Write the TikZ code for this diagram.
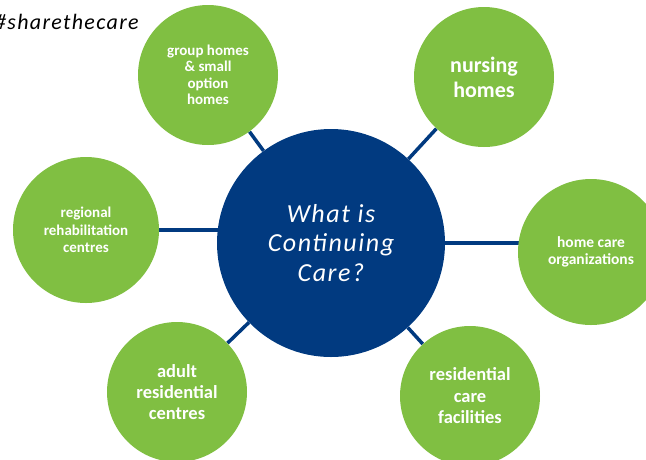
\documentclass[tikz,border=0pt]{standalone}
\usepackage{fontspec}
\setmainfont{Carlito}
\newfontfamily\handfont[LetterSpace=6]{Carlito}
\usetikzlibrary{backgrounds}
\definecolor{cgreen}{RGB}{128,191,66}
\definecolor{cblue}{RGB}{1,58,128}
\begin{document}
\begin{tikzpicture}[x=1pt,y=-1pt,
  sat/.style={circle, fill=cgreen, draw=none, inner sep=0pt, text=white, align=center},
  hub/.style={circle, fill=cblue, draw=none, inner sep=0pt, text=white, align=center},
  link/.style={draw=cblue, line width=3.5pt}]
\useasboundingbox (0,0) rectangle (646,459);
\node[hub, minimum size=228pt, font=\handfont\itshape\fontsize{26}{29.5}\selectfont] (cen) at (331,243) {What is\\ Continuing\\ Care?};
\node[sat, minimum size=140pt, font=\bfseries\fontsize{15}{16.5}\selectfont] (grp) at (208,75) {group homes\\ \& small\\ option\\ homes};
\node[sat, minimum size=140pt, font=\bfseries\fontsize{22}{25}\selectfont] (nur) at (484,77) {nursing\\ homes};
\node[sat, minimum size=146pt, font=\bfseries\fontsize{15}{17.5}\selectfont] (reg) at (86,230) {regional\\ rehabilitation\\ centres};
\node[sat, minimum size=146pt, font=\bfseries\fontsize{15.5}{17.5}\selectfont] (hc) at (591,252) {home care\\ organizations};
\node[sat, minimum size=140pt, font=\bfseries\fontsize{18.5}{21}\selectfont] (adu) at (177,392) {adult\\ residential\\ centres};
\node[sat, minimum size=140pt, font=\bfseries\fontsize{18.5}{21.5}\selectfont] (rcf) at (470,396) {residential\\ care\\ facilities};
\node[anchor=base west, inner sep=0pt, font=\handfont\itshape\fontsize{22}{26}\selectfont] (tag) at (-5,29) {\#sharethecare};
\begin{scope}[on background layer]
\draw[link] (reg) -- (reg -| cen);
\draw[link] (cen) -- (cen -| hc);
\draw[link] (cen) -- (grp);
\draw[link] (cen) -- (nur);
\draw[link] (cen) -- (adu);
\draw[link] (cen) -- (rcf);
\end{scope}
\end{tikzpicture}
\end{document}
